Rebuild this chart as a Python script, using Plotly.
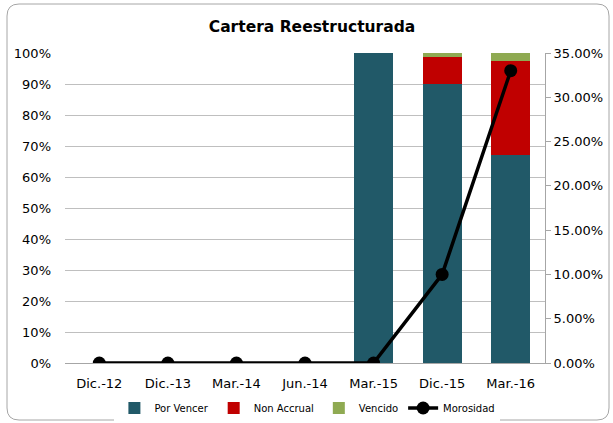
import plotly.graph_objects as go

categories = ["Dic.-12", "Dic.-13", "Mar.-14", "Jun.-14", "Mar.-15", "Dic.-15", "Mar.-16"]
por_vencer = [None, None, None, None, 1.00, 0.90, 0.67]
non_accrual = [None, None, None, None, None, 0.088, 0.305]
vencido = [None, None, None, None, None, 0.012, 0.025]
morosidad = [0, 0, 0, 0, 0, 0.10, 0.33]

FONT = "DejaVu Sans"
W, H = 613, 423
L, R, T, B = 65, 68, 53, 60
pw, ph = W - L - R, H - T - B

fig = go.Figure()
fig.add_bar(x=categories, y=por_vencer, name="Por Vencer", marker=dict(color="#215968", line=dict(width=0)))
fig.add_bar(x=categories, y=non_accrual, name="Non Accrual", marker=dict(color="#C00000", line=dict(width=0)))
fig.add_bar(x=categories, y=vencido, name="Vencido", marker=dict(color="#8FAA52", line=dict(width=0)))
fig.add_scatter(x=categories, y=morosidad, name="Morosidad", yaxis="y2", mode="lines+markers",
                line=dict(color="black", width=3.5), marker=dict(color="black", size=13))

def px(x):
    return (x - L) / pw

def py(y):
    return (H - B - y) / ph

x0, x1, y0, y1, r = 7, 609, 4, 420, 12
path = (f"M {px(x0 + r)},{py(y0)} L {px(x1 - r)},{py(y0)} Q {px(x1)},{py(y0)} {px(x1)},{py(y0 + r)} "
        f"L {px(x1)},{py(y1 - r)} Q {px(x1)},{py(y1)} {px(x1 - r)},{py(y1)} "
        f"L {px(x0 + r)},{py(y1)} Q {px(x0)},{py(y1)} {px(x0)},{py(y1 - r)} "
        f"L {px(x0)},{py(y0 + r)} Q {px(x0)},{py(y0)} {px(x0 + r)},{py(y0)} Z")

fig.update_layout(
    width=W, height=H,
    margin=dict(l=L, r=R, t=T, b=B, autoexpand=False),
    paper_bgcolor="white", plot_bgcolor="white",
    barmode="stack", bargap=0.43,
    font=dict(family=FONT, size=13, color="black"),
    title=dict(text="<b>Cartera Reestructurada</b>", x=0.509, xanchor="center", y=1 - 27 / H, yanchor="middle",
               font=dict(family=FONT, size=15.5, color="black")),
    xaxis=dict(showline=True, linecolor="#A6A6A6", linewidth=1, ticks="", tickfont=dict(size=13),
               showgrid=False, ticklabelstandoff=8),
    yaxis=dict(range=[0, 1], dtick=0.1, tickformat=".0%", showgrid=True, gridcolor="#BFBFBF",
               gridwidth=1, showline=False, zeroline=False, ticks="", tickfont=dict(size=13),
               ticklabelstandoff=13),
    yaxis2=dict(range=[0, 0.35], dtick=0.05, tickformat=".2%", overlaying="y", side="right",
                showgrid=False, showline=True, linecolor="#A6A6A6", linewidth=1, ticks="outside",
                ticklen=5, tickcolor="#A6A6A6", zeroline=False, tickfont=dict(size=13)),
    legend=dict(orientation="h", x=0.505, xanchor="center", y=-(408 - (H - B)) / ph, yanchor="middle",
                font=dict(size=10), traceorder="normal", itemwidth=30, tracegroupgap=0),
    shapes=[dict(type="path", xref="paper", yref="paper", path=path,
                 line=dict(color="#A6A6A6", width=1), fillcolor="rgba(0,0,0,0)", layer="below")],
)

fig.write_html("out.html", post_script="document.body.style.margin='0';",
               config={"displayModeBar": False})
